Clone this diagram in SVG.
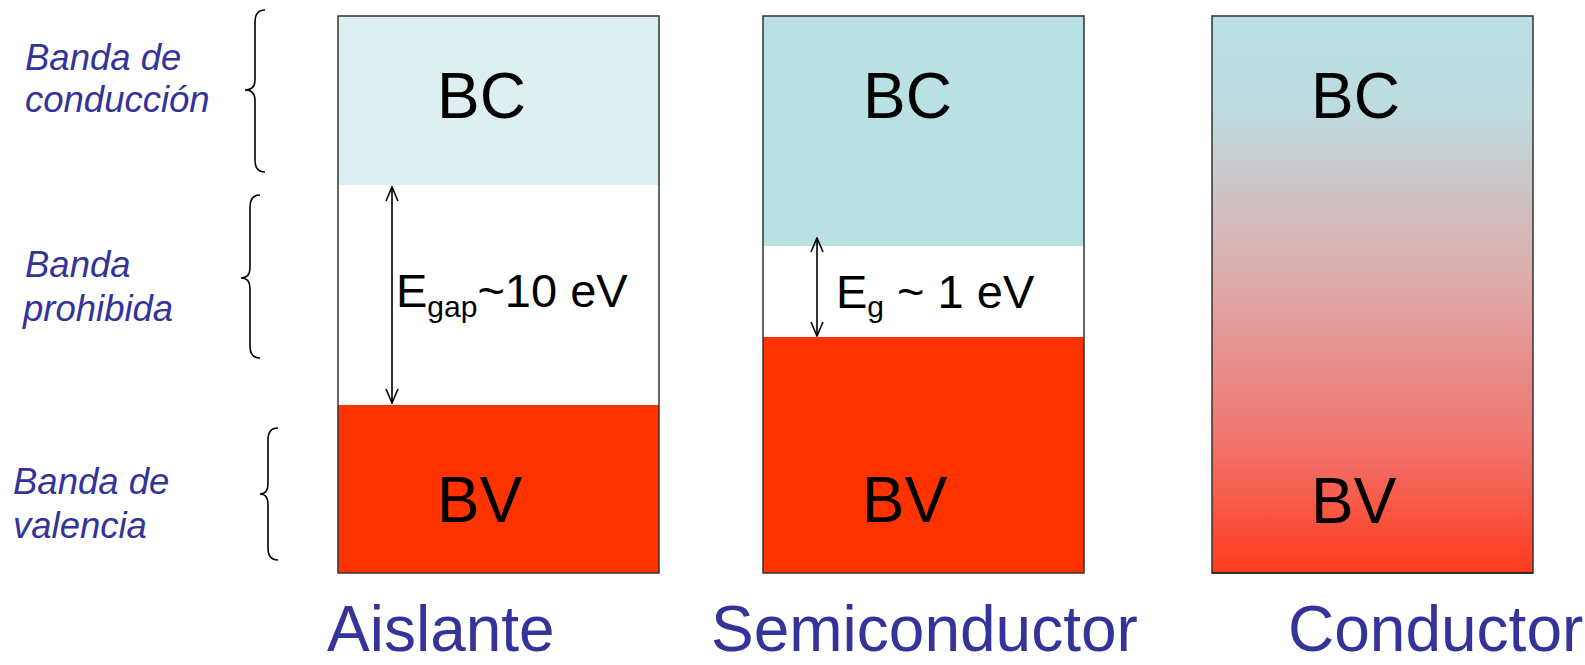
<svg xmlns="http://www.w3.org/2000/svg" width="1585" height="665" viewBox="0 0 1585 665">
<style>
.lbl{font-family:"Liberation Sans",Arial,sans-serif;font-style:italic;font-size:36.5px;fill:#333399}
.band{font-family:"Liberation Sans",Arial,sans-serif;font-size:64px;fill:#000}
.gap{font-family:"Liberation Sans",Arial,sans-serif;font-size:47px;fill:#000}
.title{font-family:"Liberation Sans",Arial,sans-serif;font-size:64px;fill:#333399}
.brace{fill:none;stroke:#000;stroke-width:1.6}
.box{fill:none;stroke:#333;stroke-width:1.5}
.arr{stroke:#000;stroke-width:1.6;fill:none}
</style>
<defs>
<linearGradient id="cond" x1="0" y1="0" x2="0" y2="1">
<stop offset="0" stop-color="#B9E0E3"/>
<stop offset="0.18" stop-color="#BEDADD"/>
<stop offset="0.5" stop-color="#E1A6A6"/>
<stop offset="0.78" stop-color="#F1716A"/>
<stop offset="1" stop-color="#FF3A1C"/>
</linearGradient>
<marker id="ah" viewBox="0 0 16 16" refX="15" refY="8" markerWidth="16" markerHeight="16" markerUnits="userSpaceOnUse" orient="auto-start-reverse">
<path d="M1,2 L15,8 L1,14" fill="none" stroke="#000" stroke-width="1.6"/>
</marker>
</defs>

<g id="labels-left">
<g id="lbl-conduccion">
<path class="brace" d="M265,10 Q255,10 255,22 L255,80 Q255,90 245,90 Q255,90 255,100 L255,160 Q255,172 265,172"/>
<text class="lbl" x="25" y="70">Banda de</text>
<text class="lbl" x="25" y="112">conducción</text>
</g>
<g id="lbl-prohibida">
<path class="brace" d="M260,195 Q250,195 250,207 L250,268 Q250,278 241,278 Q250,278 250,288 L250,346 Q250,358 260,358"/>
<text class="lbl" x="25" y="277">Banda</text>
<text class="lbl" x="23" y="321">prohibida</text>
</g>
<g id="lbl-valencia">
<path class="brace" d="M278,428 Q268,428 268,440 L268,484 Q268,494 260,494 Q268,494 268,504 L268,548 Q268,560 278,560"/>
<text class="lbl" x="13" y="494">Banda de</text>
<text class="lbl" x="13" y="538">valencia</text>
</g>
</g>

<g id="aislante">
<rect x="338" y="16" width="321" height="169" fill="#DDEFF1"/>
<rect x="338" y="405" width="321" height="168" fill="#FF3300"/>
<rect class="box" x="338" y="16" width="321" height="557"/>
<text class="band" x="437" y="118">BC</text>
<text class="band" x="437" y="522">BV</text>
<text class="gap" x="396" y="307">E<tspan font-size="30" dy="10">gap</tspan><tspan dy="-10">~10 eV</tspan></text>
<text class="title" x="327" y="651">Aislante</text>
</g>

<g id="semiconductor">
<rect x="763" y="16" width="321" height="230" fill="#B9E0E3"/>
<rect x="763" y="337" width="321" height="236" fill="#FF3300"/>
<rect class="box" x="763" y="16" width="321" height="557"/>
<text class="band" x="863" y="118">BC</text>
<text class="band" x="862" y="522">BV</text>
<text class="gap" x="836" y="308">E<tspan font-size="30" dy="9">g</tspan><tspan dy="-9"> ~ 1 eV</tspan></text>
<text class="title" x="711" y="651">Semiconductor</text>
</g>

<g id="conductor">
<rect x="1212" y="16" width="321" height="557" fill="url(#cond)"/>
<rect class="box" x="1212" y="16" width="321" height="557" stroke="#aaa"/>
<line x1="1212" y1="573" x2="1533" y2="573" stroke="#222" stroke-width="1.5"/>
<text class="band" x="1311" y="118">BC</text>
<text class="band" x="1311" y="523">BV</text>
<text class="title" x="1288" y="651">Conductor</text>
</g>

<g id="connectors">
<line class="arr" x1="392" y1="187" x2="392" y2="403" marker-start="url(#ah)" marker-end="url(#ah)"/>
<line class="arr" x1="817" y1="238" x2="817" y2="336" marker-start="url(#ah)" marker-end="url(#ah)"/>
</g>
</svg>
